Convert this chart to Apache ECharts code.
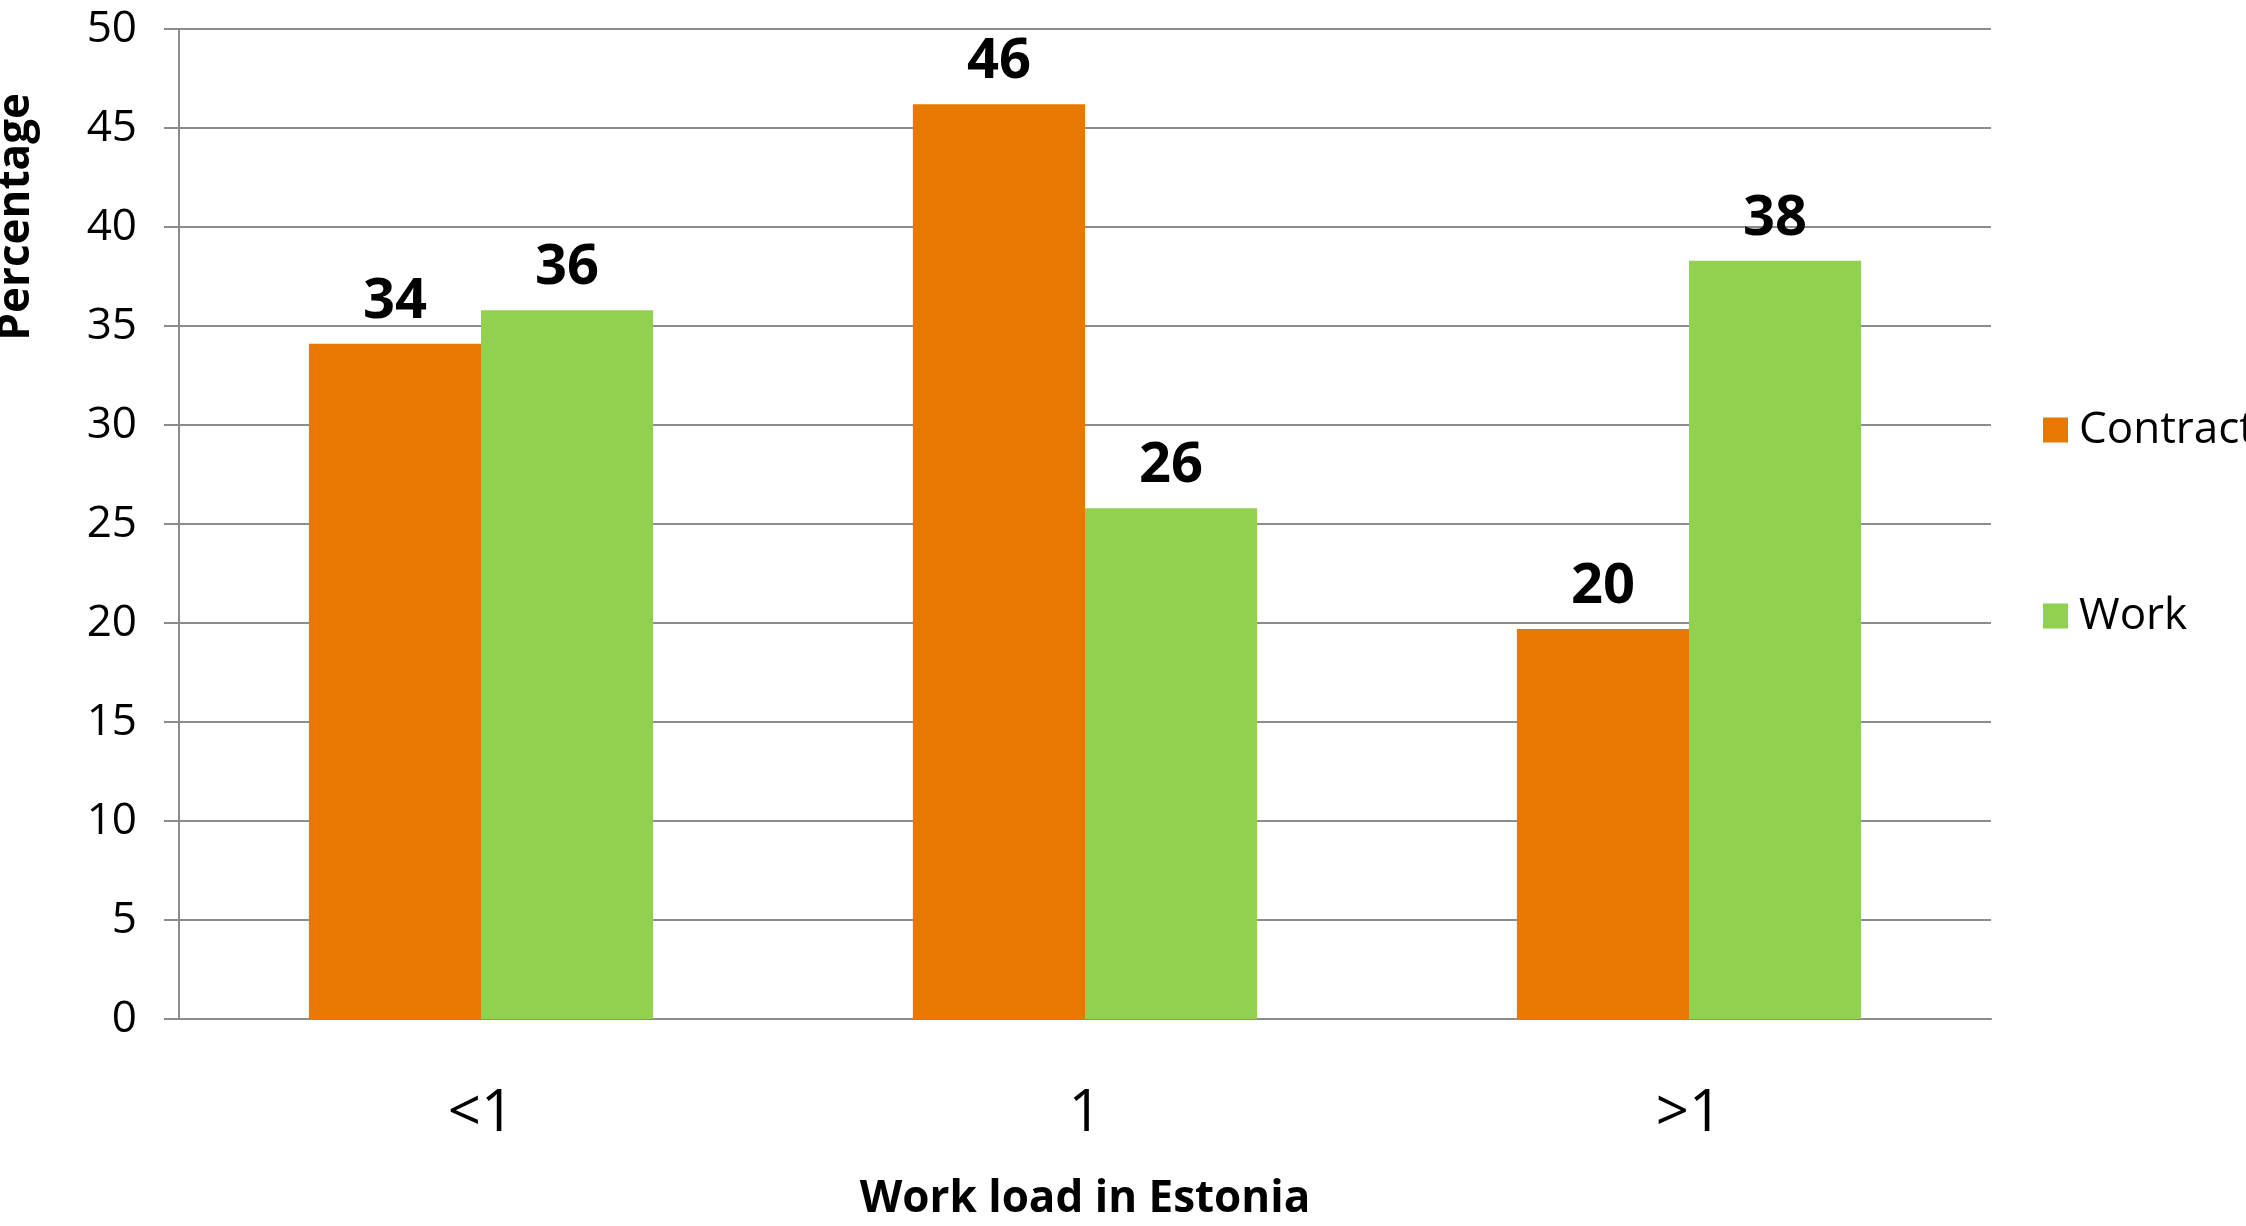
<!DOCTYPE html>
<html><head><meta charset="utf-8">
<script src="https://cdn.jsdelivr.net/npm/echarts@6/dist/echarts.min.js"></script>
<style>html,body{margin:0;padding:0;background:#fff;}#c{width:2246px;height:1226px;}</style>
</head><body><div id="c"></div>
<script>
const categories = ['<1', '1', '>1'];
const seriesNames = ['Contract', 'Work'];
const contractValues = [34.1, 46.2, 19.7];
const workValues = [35.8, 25.8, 38.3];
const yTicks = [0, 5, 10, 15, 20, 25, 30, 35, 40, 45, 50];

const FONT = '"Open Sans", "DejaVu Sans", sans-serif';
const chart = echarts.init(document.getElementById('c'));
const labelStyle = {
  show: true, position: 'top', distance: 14,
  fontFamily: FONT, fontWeight: 'bold', fontSize: 56, color: '#000',
  formatter: p => Math.round(p.value)
};
chart.setOption({
  animation: false,
  backgroundColor: '#fff',
  textStyle: { fontFamily: FONT },
  grid: { left: 179, right: 255, top: 29, bottom: 203, containLabel: false },
  legend: {
    orient: 'vertical', left: 2038, top: 403,
    itemWidth: 25, itemHeight: 25, itemGap: 142,
    icon: 'rect',
    textStyle: { fontFamily: FONT, fontSize: 44, color: '#000', padding: [0, 0, 0, 6] },
    data: seriesNames
  },
  graphic: [{
    type: 'text', left: -6, top: 93, rotation: Math.PI / 2,
    style: { text: 'Percentage', font: 'bold 44px ' + FONT, fill: '#000' }
  }],
  xAxis: {
    type: 'category', data: categories,
    name: 'Work load in Estonia', nameLocation: 'middle', nameGap: 158,
    nameTextStyle: { fontFamily: FONT, fontWeight: 'bold', fontSize: 44, color: '#000' },
    axisLine: { lineStyle: { color: '#8c8c8c', width: 2 } },
    axisTick: { show: false },
    axisLabel: { fontFamily: FONT, fontSize: 58, color: '#000', margin: 66 }
  },
  yAxis: {
    type: 'value', min: 0, max: 50, interval: 5,
    axisLine: { show: true, lineStyle: { color: '#8c8c8c', width: 2 } },
    axisTick: { show: true, length: 15, lineStyle: { color: '#8c8c8c', width: 2 } },
    splitLine: { lineStyle: { color: '#8c8c8c', width: 2 } },
    axisLabel: { fontFamily: FONT, fontSize: 44, color: '#000', margin: 42,
      formatter: v => yTicks.includes(v) ? String(v) : '' }
  },
  series: [
    { name: seriesNames[0], type: 'bar', data: contractValues, barGap: '0%', barCategoryGap: '43%',
      itemStyle: { color: '#E87800' }, label: labelStyle },
    { name: seriesNames[1], type: 'bar', data: workValues, barGap: '0%', barCategoryGap: '43%',
      itemStyle: { color: '#92D050' }, label: labelStyle }
  ]
});
</script></body></html>
